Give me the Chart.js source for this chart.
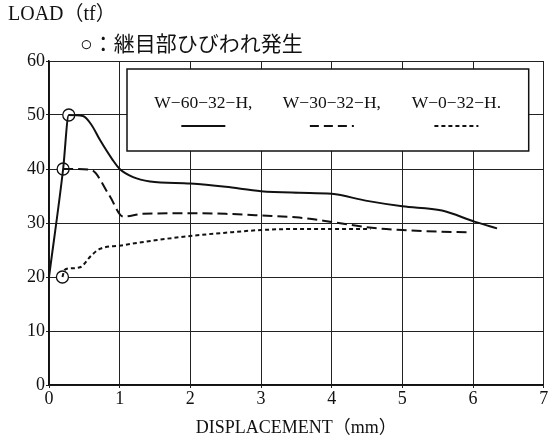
<!DOCTYPE html>
<html>
<head>
<meta charset="utf-8">
<script src="https://cdn.jsdelivr.net/npm/chart.js@4"></script>
<style>
    body { margin: 0; background: #fff; }
</style>
</head>
<body>
<canvas id="loadChart" width="551" height="443"></canvas>
<script>
// Load vs displacement
const w60x = [0, 0.2, 0.28, 0.48, 0.6, 0.72, 0.9, 1.0, 1.19, 1.43, 2.0, 2.5, 3.0, 3.54, 4.0, 4.5, 5.0, 5.56, 6.03, 6.34];
const w60y = [20, 40, 50, 49.8, 48.2, 45.4, 41.7, 40.0, 38.5, 37.7, 37.3, 36.7, 35.9, 35.6, 35.4, 34.1, 33.1, 32.3, 30.2, 29.0];

const w30x = [0.2, 0.4, 0.6, 0.85, 1.05, 1.33, 2.0, 2.5, 3.0, 3.54, 4.0, 4.57, 5.0, 5.5, 5.94];
const w30y = [40, 40, 39.8, 35.2, 31.2, 31.7, 31.8, 31.7, 31.4, 31.0, 30.2, 29.1, 28.7, 28.4, 28.3];

const w0x = [0.19, 0.22, 0.3, 0.44, 0.6, 0.72, 1.0, 1.5, 2.0, 2.5, 3.0, 3.54, 4.0, 4.55];
const w0y = [20, 21.3, 21.6, 21.8, 24.0, 25.2, 25.8, 26.8, 27.6, 28.2, 28.7, 28.9, 28.9, 28.9];

// joint cracking points (open circles)
const crackX = [0.19, 0.2, 0.28];
const crackY = [20, 40, 50];

const legendLabels = ['W−60−32−H,', 'W−30−32−H,', 'W−0−32−H.'];
const legendDash = [[], [9, 5], [4, 3]];

const xTicks = [0, 1, 2, 3, 4, 5, 6, 7];
const yTicks = [0, 10, 20, 30, 40, 50, 60];

const serif = "'Liberation Serif', 'Noto Sans CJK JP', serif";

function toPoints(xs, ys) {
    return xs.map((x, i) => ({ x: x, y: ys[i] }));
}

// Boxed legend and the two header lines
const annotations = {
    id: 'annotations',
    beforeDatasetsDraw(chart) {
        const ctx = chart.ctx;
        const area = chart.chartArea;
        const left = area.left + 78;
        const right = area.right - 15;
        const top = area.top + 8;
        const bottom = area.top + 90;
        const w = right - left;

        ctx.save();
        ctx.fillStyle = '#fff';
        ctx.fillRect(left, top, w, bottom - top);
        ctx.strokeStyle = '#111';
        ctx.lineWidth = 1.5;
        ctx.strokeRect(left, top, w, bottom - top);

        const centers = [0.19, 0.51, 0.82];
        ctx.font = '17.5px ' + serif;
        ctx.fillStyle = '#111';
        ctx.textAlign = 'center';
        ctx.textBaseline = 'middle';
        legendLabels.forEach((label, i) => {
            const cx = left + w * centers[i];
            ctx.fillText(label, cx, top + 34);
            ctx.setLineDash(legendDash[i]);
            ctx.lineWidth = 2;
            ctx.beginPath();
            ctx.moveTo(cx - 22, top + 57);
            ctx.lineTo(cx + 22, top + 57);
            ctx.stroke();
        });
        ctx.restore();
    },
    afterDraw(chart) {
        const ctx = chart.ctx;
        ctx.save();
        ctx.fillStyle = '#111';
        ctx.textBaseline = 'middle';
        ctx.textAlign = 'left';
        ctx.font = '20px ' + serif;
        ctx.fillText('LOAD（tf）', 8, 15);
        ctx.font = '21px ' + serif;
        ctx.fillText('○：継目部ひびわれ発生', 80, 45);
        ctx.restore();
    }
};

const ctx = document.getElementById('loadChart').getContext('2d');
new Chart(ctx, {
    type: 'scatter',
    data: {
        datasets: [
            {
                label: 'W-60-32-H',
                data: toPoints(w60x, w60y),
                showLine: true,
                borderColor: '#111',
                borderWidth: 2,
                pointRadius: 0,
                cubicInterpolationMode: 'monotone'
            },
            {
                label: 'W-30-32-H',
                data: toPoints(w30x, w30y),
                showLine: true,
                borderColor: '#111',
                borderWidth: 2,
                borderDash: [10, 5],
                pointRadius: 0,
                cubicInterpolationMode: 'monotone'
            },
            {
                label: 'W-0-32-H',
                data: toPoints(w0x, w0y),
                showLine: true,
                borderColor: '#111',
                borderWidth: 2,
                borderDash: [4, 3],
                pointRadius: 0,
                cubicInterpolationMode: 'monotone'
            },
            {
                label: 'crack',
                data: toPoints(crackX, crackY),
                showLine: false,
                pointRadius: 6,
                pointBackgroundColor: '#fff',
                pointBorderColor: '#111',
                pointBorderWidth: 1.3
            }
        ]
    },
    options: {
        responsive: false,
        animation: false,
        layout: { padding: { top: 61, right: 6, left: 0, bottom: 0 } },
        plugins: {
            legend: { display: false },
            tooltip: { enabled: false }
        },
        scales: {
            x: {
                type: 'linear',
                min: 0,
                max: 7,
                afterBuildTicks: (scale) => { scale.ticks = xTicks.map(v => ({ value: v })); },
                afterFit: (scale) => { scale.height = 58; },
                grid: { color: '#222', lineWidth: 1, tickLength: 3 },
                border: { color: '#111', width: 1.5 },
                ticks: { color: '#111', font: { family: serif, size: 18 }, padding: 0 },
                title: {
                    display: true,
                    text: 'DISPLACEMENT（mm）',
                    color: '#111',
                    font: { family: serif, size: 18 },
                    padding: { top: 4 }
                }
            },
            y: {
                type: 'linear',
                min: 0,
                max: 60,
                afterBuildTicks: (scale) => { scale.ticks = yTicks.map(v => ({ value: v })); },
                afterFit: (scale) => { scale.width = 49; },
                grid: { color: '#222', lineWidth: 1, tickLength: 3 },
                border: { color: '#111', width: 1.5 },
                ticks: { color: '#111', font: { family: serif, size: 18 }, padding: 1 }
            }
        }
    },
    plugins: [annotations]
});
</script>
</body>
</html>
